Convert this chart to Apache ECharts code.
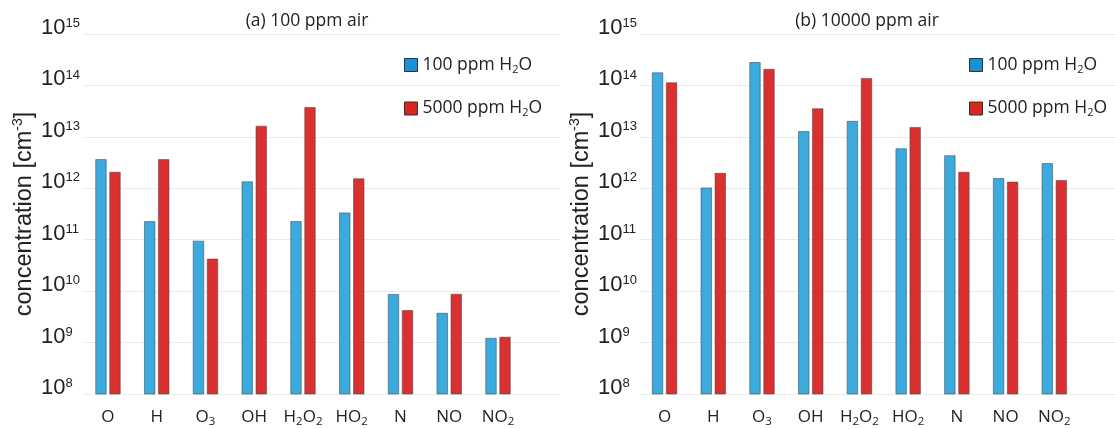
<!DOCTYPE html>
<html lang="en">

<head>
    <meta charset="UTF-8">
    <title>concentration</title>
    <script src="https://cdn.jsdelivr.net/npm/echarts@6/dist/echarts.min.js"></script>
</head>

<body style="margin:0;background-color:#ffffff;">
    <div id="main" style="position:absolute;left:0;top:0;width:1115px;height:429px"></div>

    <script>
        // species on the x axis
        var species = ['O', 'H', 'O3', 'OH', 'H2O2', 'HO2', 'N', 'NO', 'NO2'];
        var seriesNames = ['100 ppm H2O', '5000 ppm H2O'];

        // (a) 100 ppm air
        var airLowH2O100 = [3.7e12, 2.3e11, 9.6e10, 1.37e12, 2.3e11, 3.4e11, 8.8e9, 3.8e9, 1.24e9];
        var airLowH2O5000 = [2.1e12, 3.7e12, 4.3e10, 1.65e13, 3.8e13, 1.56e12, 4.3e9, 8.9e9, 1.3e9];
        // (b) 10000 ppm air
        var airHighH2O100 = [1.8e14, 1.04e12, 2.85e14, 1.3e13, 2.05e13, 6.0e12, 4.4e12, 1.58e12, 3.1e12];
        var airHighH2O5000 = [1.15e14, 2.0e12, 2.1e14, 3.6e13, 1.4e14, 1.56e13, 2.1e12, 1.35e12, 1.45e12];

        var titles = ['(a) 100 ppm air', '(b) 10000 ppm air'];

        var blue = '#3aaadf', red = '#da3030';
        var sansA = '"Liberation Sans", Arial, sans-serif';
        var sansB = '"Open Sans", "Noto Sans", sans-serif';

        // digits right after a letter become subscripts
        function chem(s) {
            var out = '{t|' + s.replace(/([A-Za-z])(\d+)/g, '$1}{sub|$2}{t|') + '}';
            return out.replace(/\{t\|\}/g, '');
        }

        var myCharts = echarts.init(document.getElementById('main'));

        var gridBox = [{ left: 83, right: 555 }, { left: 640, right: 0 }];
        var barBox = [{ left: 83.6, width: 438.8 }, { left: 640.2, width: 438.5 }];
        var data = [[airLowH2O100, airLowH2O5000], [airHighH2O100, airHighH2O5000]];

        var grids = [], xAxes = [], yAxes = [], series = [], legends = [], titleList = [];

        for (var p = 0; p < 2; p++) {
            // background grid: gridlines, tick labels, axis name
            grids.push({ left: gridBox[p].left, right: gridBox[p].right, top: 34, bottom: 35 });
            // bars grid
            grids.push({ left: barBox[p].left, width: barBox[p].width, top: 34, bottom: 35 });

            xAxes.push({ type: 'category', gridIndex: p * 2, data: species, show: false });
            xAxes.push({
                type: 'category', gridIndex: p * 2 + 1, data: species,
                axisLine: { show: false }, axisTick: { show: false },
                axisLabel: {
                    margin: 12, interval: 0,
                    formatter: function (v) { return chem(v); },
                    rich: {
                        t: { fontSize: 17, fontFamily: sansB, color: '#222', lineHeight: 22, verticalAlign: 'middle' },
                        sub: { fontSize: 11.5, fontFamily: sansB, color: '#222', verticalAlign: 'bottom', lineHeight: 12 }
                    }
                }
            });

            yAxes.push({
                type: 'log', gridIndex: p * 2, min: 1e8, max: 1e15, logBase: 10,
                axisLine: { show: false }, axisTick: { show: false },
                splitLine: { show: true, lineStyle: { color: '#ebebeb', width: 1 } },
                name: '{a|concentration [cm}{sup|-3}{a|]}',
                nameLocation: 'middle', nameGap: 44,
                nameTextStyle: {
                    rich: {
                        a: { fontSize: 23.5, fontFamily: sansA, color: '#222', lineHeight: 28, verticalAlign: 'middle' },
                        sup: { fontSize: 14, fontFamily: sansA, color: '#222', verticalAlign: 'top', lineHeight: 15 }
                    }
                },
                axisLabel: {
                    align: 'left', margin: 42, verticalAlign: 'bottom',
                    formatter: function (v) {
                        return '{b|10}{sup|' + Math.round(Math.log10(v)) + '}';
                    },
                    rich: {
                        b: { fontSize: 22, fontFamily: sansA, color: '#222', lineHeight: 17, verticalAlign: 'top' },
                        sup: { fontSize: 13, fontFamily: sansA, color: '#222', verticalAlign: 'top', lineHeight: 13 }
                    }
                }
            });
            yAxes.push({ type: 'log', gridIndex: p * 2 + 1, min: 1e8, max: 1e15, logBase: 10, show: false });

            series.push({
                name: seriesNames[0], type: 'bar', xAxisIndex: p * 2 + 1, yAxisIndex: p * 2 + 1,
                data: data[p][0], barWidth: 11.5, barGap: '22%', clip: true,
                itemStyle: { color: blue, borderColor: 'rgba(70,70,70,0.55)', borderWidth: 1 }
            });
            series.push({
                name: seriesNames[1], type: 'bar', xAxisIndex: p * 2 + 1, yAxisIndex: p * 2 + 1,
                data: data[p][1], barWidth: 11.5, barGap: '22%', clip: true,
                itemStyle: { color: red, borderColor: 'rgba(70,70,70,0.55)', borderWidth: 1 }
            });

            titleList.push({
                text: titles[p], left: p == 0 ? 302 : 862, top: 7, textAlign: 'center',
                textStyle: { fontSize: 17.5, fontWeight: 'normal', fontFamily: sansB, color: '#222' }
            });

            legends.push({
                orient: 'vertical', left: p == 0 ? 404 : 969, top: 56, padding: 0,
                itemWidth: 13, itemHeight: 13, itemGap: 24.5, icon: 'rect',
                data: [
                    { name: seriesNames[0], itemStyle: { color: '#1a90d9', borderColor: '#333', borderWidth: 1 } },
                    { name: seriesNames[1], itemStyle: { color: '#d9261f', borderColor: '#333', borderWidth: 1 } }
                ],
                formatter: function (name) { return chem(name); },
                textStyle: {
                    rich: {
                        t: { fontSize: 17.5, fontFamily: sansB, color: '#222', lineHeight: 20, verticalAlign: 'middle' },
                        sub: { fontSize: 11, fontFamily: sansB, color: '#222', verticalAlign: 'bottom', lineHeight: 11 }
                    }
                }
            });
        }

        myCharts.setOption({
            animation: false,
            title: titleList,
            legend: legends,
            grid: grids,
            xAxis: xAxes,
            yAxis: yAxes,
            series: series
        });
    </script>
</body>

</html>
